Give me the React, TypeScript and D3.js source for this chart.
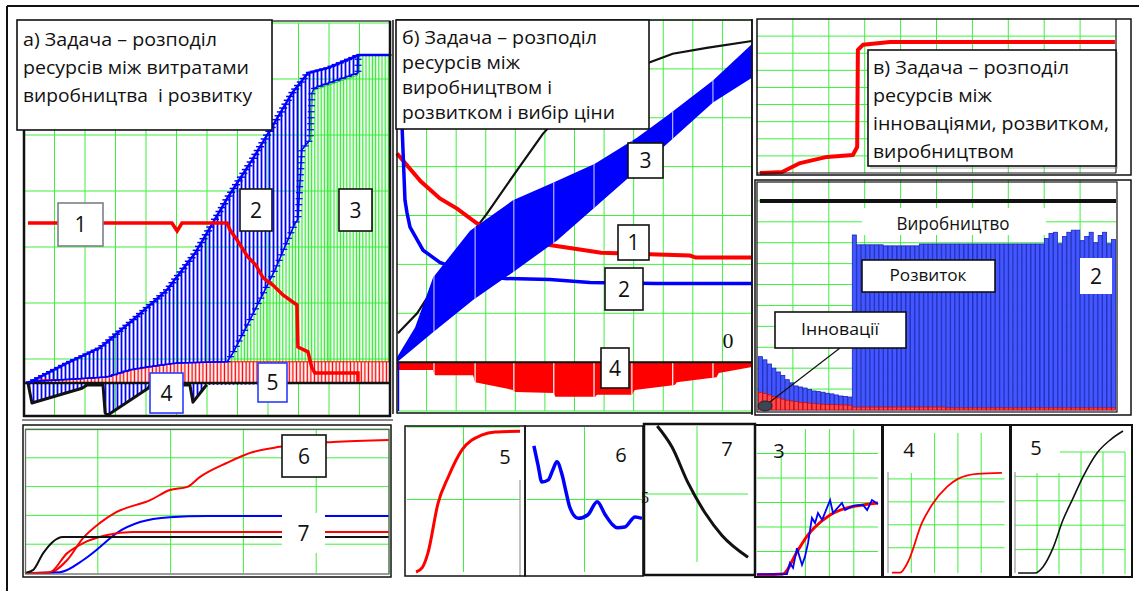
import React, { useEffect, useRef } from "react";
import * as d3 from "d3";

type Pt = [number, number];

const GRID = "#3ef03e";
const RED = "#ff0000";
const BLUE = "#0000ff";
const SANS = "'Open Sans', 'Noto Sans', sans-serif";
const SERIF = "'Liberation Serif', 'DejaVu Serif', serif";

// ---------- а) production costs vs development ----------
const aUpper2: Pt[] = [[1.3, 0], [14.1, 0.5], [24.9, 0.88], [35.7, 1.58], [46.9, 2.33], [56.1, 3.25], [66.9, 4.65], [74.8, 5.58], [81.3, 6.4], [87.9, 7.25], [93.1, 7.75], [99.7, 7.88], [107.5, 8.13], [109.5, 8.2], [120, 8.2]];
const aLower2: Pt[] = [[1.3, 0.03], [27.2, 0.15], [34.8, 0.33], [40.3, 0.4], [50.2, 0.5], [66.6, 0.53], [68.5, 0.75], [74.1, 1.58], [82.3, 2.83], [88.9, 4.0], [89.8, 4.08], [91.1, 5.83], [93.8, 6.08], [94.4, 7.25], [95.4, 7.38], [109.5, 7.75], [109.6, 8.2], [120, 8.2]];
const aTop5: Pt[] = [[1.3, 0], [5.2, 0.08], [15, 0.08], [27.2, 0.15], [35.7, 0.33], [50.2, 0.5], [60, 0.53], [120, 0.53]];
const aCurve1: Pt[] = [[1.3, 4], [48.5, 4], [50.2, 3.8], [51.8, 4], [66.6, 4], [67.5, 3.83], [69.8, 3.58], [73.4, 3.15], [76, 2.95], [78.4, 2.63], [81.6, 2.45], [84.9, 2.2], [89.5, 1.95], [89.8, 0.9], [93.1, 0.78], [94.4, 0.38], [95.4, 0.25], [109.5, 0.25], [109.5, 0.03]];
const aCurve4: Pt[] = [[1.3, 0], [2.6, -0.5], [19, -0.13], [20.7, -0.05], [25.9, -0.05], [26.6, -0.75], [27.5, -0.8], [40.7, -0.13], [41.3, -0.05], [54.4, -0.05], [55.4, -0.48], [59.3, -0.1], [60, -0.05]];

// ---------- б) production vs development, price choice ----------
const bBlack: Pt[] = [[0.03, 0.59], [0.68, 1.0], [1.79, 2.04], [3.04, 3.04], [4.05, 3.92], [4.93, 4.67], [5.84, 5.27], [6.86, 5.71], [8.48, 6.12], [9.32, 6.31], [10.47, 6.43], [12, 6.57]];
const bCurve2: Pt[] = [[0.12, 5.0], [0.17, 4.84], [0.27, 3.31], [0.34, 3.05], [0.44, 2.76], [0.88, 2.29], [1.45, 2.04], [2.57, 1.78], [3.65, 1.71], [5.17, 1.69], [6.52, 1.63], [8.78, 1.61], [12, 1.61]];
const bCurve1: Pt[] = [[0, 4.27], [0.8, 3.7], [1.45, 3.35], [2.03, 3.14], [2.7, 2.84], [3.5, 2.6], [4.3, 2.45], [5.1, 2.4], [5.9, 2.33], [6.9, 2.24], [9.9, 2.18], [10.1, 2.14], [12, 2.14]];
const bBandLow: Pt[] = [[0, 0], [1.22, 0.61], [2.57, 1.27], [3.92, 1.84], [5.41, 2.49], [6.96, 3.31], [8.99, 4.39], [10.68, 5.31], [12, 5.82]];
const bBandHigh: Pt[] = [[0, 0.1], [0.61, 0.71], [1.22, 1.73], [2.47, 2.69], [3.92, 3.31], [5.27, 3.67], [6.69, 4.06], [8.11, 4.59], [9.22, 5.08], [10.68, 5.76], [12, 6.51]];
const bNeg4: Pt[] = [[0, -0.16], [1.22, -0.16], [1.28, -0.27], [2.57, -0.27], [2.64, -0.41], [3.92, -0.57], [4.0, -0.61], [5.3, -0.63], [5.35, -0.71], [6.7, -0.71], [6.76, -0.67], [7.94, -0.67], [8.04, -0.57], [9.39, -0.47], [9.46, -0.41], [10.8, -0.31], [10.88, -0.22], [12, -0.1]];
const bGaps = [1.25, 2.64, 3.95, 5.3, 6.66, 7.94, 9.32, 10.68];

// ---------- в) innovation, development, production ----------
const vShare: Pt[] = [[0.08, 0], [0.7, 0.06], [1.2, 0.58], [1.95, 0.94], [2.67, 1.05], [2.79, 1.52], [2.81, 7.19], [2.95, 7.49], [3.7, 7.66], [9.97, 7.66]];
const vDevelopment = [
  2.55, 2.4, 2.2, 2.0, 1.82, 1.65, 1.45, 1.3, 1.15, 1.1, 1.05, 0.98, 0.91, 0.88, 0.85, 0.8, 0.77, 0.72, 0.67, 0.65, 0.62,
  8.37, 7.9, 7.9, 7.9, 7.9, 7.9, 7.9, 7.85, 7.85, 7.85, 7.85, 7.85, 7.85, 7.85, 7.85,
  7.94, 7.94, 7.94, 7.94, 7.94, 7.94, 7.94, 7.94, 7.94, 7.94, 7.94, 7.94, 7.94, 7.94, 7.94, 7.94, 7.94, 7.94, 7.94, 7.94,
  7.94, 7.94, 7.94, 7.94, 7.94, 7.94, 7.94, 7.94,
  8.2, 8.45, 8.5, 7.95, 8.3, 8.5, 8.6, 8.6, 8.1, 8.3, 8.5, 8.0, 8.35, 8.5, 7.95, 8.15,
];
const vInnovation = [
  0.85, 0.8, 0.72, 0.65, 0.58, 0.52, 0.47, 0.43, 0.4, 0.37, 0.35, 0.33, 0.31, 0.29, 0.28, 0.27, 0.26, 0.25, 0.24, 0.24, 0.23,
  0.14, 0.14, 0.14, 0.14, 0.14, 0.14, 0.14, 0.14, 0.14, 0.14, 0.14, 0.14, 0.14, 0.14, 0.14, 0.14, 0.14, 0.14, 0.14, 0.14, 0.14,
  0.1, 0.1, 0.1, 0.1, 0.1, 0.1, 0.1, 0.1, 0.1, 0.1, 0.1, 0.1, 0.1, 0.1, 0.1, 0.1, 0.1, 0.1, 0.1,
  0.1, 0.1, 0.1, 0.1, 0.1, 0.1, 0.1, 0.1, 0.1, 0.1, 0.1, 0.1, 0.1, 0.1, 0.1, 0.1, 0.1, 0.1, 0.1,
];
const vProductionLevel = 10;

// ---------- small panels ----------
const s6Red: Pt[] = [[0, 0], [0.32, 0], [0.58, 0.45], [0.8, 1.22], [1.03, 1.74], [1.26, 2.12], [1.72, 2.53], [1.99, 2.88], [2.23, 2.99], [2.4, 3.33], [2.77, 3.82], [3.13, 4.2], [3.5, 4.38], [4.23, 4.55], [5, 4.62]];
const s7Blue: Pt[] = [[0, 0], [0.48, 0.03], [0.8, 0.45], [1.03, 0.9], [1.26, 1.39], [1.58, 1.77], [1.99, 1.94], [2.5, 1.98], [5, 1.98]];
const s7Red: Pt[] = [[0, 0], [0.34, 0.03], [0.58, 0.69], [0.8, 1.04], [1.13, 1.32], [1.48, 1.42], [5, 1.42]];
const s7Black: Pt[] = [[0, 0], [0.11, 0.1], [0.25, 0.69], [0.38, 1.08], [0.52, 1.25], [5, 1.25]];

const b5Red: Pt[] = [[0.16, 0], [0.27, 0.06], [0.37, 0.26], [0.55, 0.95], [0.73, 1.31], [0.97, 1.68], [1.33, 1.89], [1.56, 1.93], [2, 1.94]];
const b6Blue: Pt[] = [[0.12, 1.74], [0.19, 1.48], [0.26, 1.24], [0.37, 1.27], [0.45, 1.41], [0.52, 1.52], [0.61, 1.34], [0.68, 1.1], [0.75, 0.88], [0.89, 0.74], [1.06, 0.79], [1.22, 0.97], [1.36, 0.79], [1.48, 0.66], [1.57, 0.61], [1.7, 0.62], [1.88, 0.76], [2, 0.74]];
const b7Black: Pt[] = [[0.22, 2.0], [0.51, 1.69], [0.82, 1.17], [1.16, 0.72], [1.49, 0.39], [2, 0.07]];

const v3Red: Pt[] = [[0, 0.04], [1.07, 0.08], [1.65, 0.98], [2.1, 1.67], [2.4, 2.0], [3.02, 2.49], [3.72, 2.78], [4.38, 2.9], [5, 2.98]];
const v3Blue: Pt[] = [[0, 0.08], [1.24, 0.08], [1.36, 0.53], [1.49, 0.33], [1.65, 1.14], [1.86, 0.45], [1.98, 0.78], [2.11, 1.35], [2.27, 2.37], [2.4, 2.16], [2.52, 2.57], [2.69, 2.29], [3.02, 3.1], [3.14, 2.57], [3.51, 2.98], [3.64, 2.69], [3.97, 2.86], [4.38, 2.9], [4.55, 2.69], [4.75, 3.1], [5, 2.94]];
const v4Red: Pt[] = [[0.17, -0.08], [0.52, -0.08], [0.86, 0.39], [1.46, 2.09], [1.89, 2.87], [2.53, 3.65], [3.0, 4.0], [3.82, 4.22], [4.89, 4.26]];
const v5Black: Pt[] = [[0.14, 0.04], [0.91, 0.04], [1.27, 0.29], [1.73, 1.07], [2.18, 2.21], [2.64, 3.11], [3.09, 3.98], [3.73, 4.96], [4.32, 5.49], [4.91, 5.86]];

const titleA = ["а) Задача – розподіл", "ресурсів між витратами", "виробництва  і розвитку"];
const titleB = ["б) Задача – розподіл", "ресурсів між", "виробництвом і", "розвитком і вибір ціни"];
const titleV = ["в) Задача – розподіл", "ресурсів між", "інноваціями, розвитком,", "виробництвом"];

type Sc = d3.ScaleLinear<number, number>;
const lin = (dom: [number, number], rng: [number, number]) => d3.scaleLinear().domain(dom).range(rng);

function linePath(pts: Pt[], x: Sc, y: Sc, curve: d3.CurveFactory = d3.curveLinear) {
  return d3.line<Pt>().x((d) => x(d[0])).y((d) => y(d[1])).curve(curve)(pts) || "";
}
function bandPath(top: Pt[], bottom: Pt[], x: Sc, y: Sc) {
  return linePath([...top, ...bottom.slice().reverse()], x, y) + "Z";
}

function Grid({ x, y, xs, ys }: { x: Sc; y: Sc; xs: number[]; ys: number[] }) {
  const [x0, x1] = x.range();
  const [y0, y1] = y.range();
  return (
    <g stroke={GRID} strokeWidth={1}>
      {xs.map((v, i) => <line key={"v" + i} x1={x(v)} x2={x(v)} y1={y0} y2={y1} />)}
      {ys.map((v, i) => <line key={"h" + i} x1={x0} x2={x1} y1={y(v)} y2={y(v)} />)}
    </g>
  );
}

function Caps({ d, color, step, half, width }: { d: string; color: string; step: number; half: number; width: number }) {
  const ref = useRef<SVGGElement>(null);
  useEffect(() => {
    const g = d3.select(ref.current);
    const p = g.select<SVGPathElement>("path.guide").node();
    if (!p) return;
    const L = p.getTotalLength();
    const pts = d3.range(step / 2, L, step).map((l) => p.getPointAtLength(l));
    g.selectAll("line.cap")
      .data(pts)
      .join("line")
      .attr("class", "cap")
      .attr("x1", (q) => q.x - half)
      .attr("x2", (q) => q.x + half)
      .attr("y1", (q) => q.y)
      .attr("y2", (q) => q.y)
      .attr("stroke", color)
      .attr("stroke-width", width);
  }, [d, color, step, half, width]);
  return (
    <g ref={ref}>
      <path className="guide" d={d} fill="none" stroke="none" />
    </g>
  );
}

function TextBox({ x, y, w, h, lines, tx, base, gap, widths, size = 19 }: {
  x: number; y: number; w: number; h: number; lines: string[]; tx: number; base: number; gap: number; widths: number[]; size?: number;
}) {
  return (
    <g>
      <rect x={x} y={y} width={w} height={h} fill="#fff" stroke="#111" strokeWidth={1.6} />
      {lines.map((t, i) => (
        <text key={i} x={tx} y={base + i * gap} fontFamily={SANS} fontSize={size} fill="#111"
          textLength={widths[i]} lengthAdjust="spacingAndGlyphs" style={{ whiteSpace: "pre" }}>
          {t}
        </text>
      ))}
    </g>
  );
}

function Label({ x, y, w, h, text, stroke = "#111", size = 21, fill = "#fff", noBorder = false }: {
  x: number; y: number; w: number; h: number; text: string; stroke?: string; size?: number; fill?: string; noBorder?: boolean;
}) {
  return (
    <g>
      <rect x={x} y={y} width={w} height={h} fill={fill} stroke={noBorder ? "none" : stroke} strokeWidth={1.6} />
      <text x={x + w / 2} y={y + h / 2} dy="0.36em" textAnchor="middle" fontFamily={SANS} fontSize={size} fill="#111">{text}</text>
    </g>
  );
}

function Num({ x, y, text, size = 20, font = SANS }: { x: number; y: number; text: string; size?: number; font?: string }) {
  return <text x={x} y={y} textAnchor="middle" fontFamily={font} fontSize={size} fill="#111">{text}</text>;
}

export default function App() {
  // panel а
  const aX = lin([0, 120], [24, 390]);
  const aY = lin([-0.8, 9], [415, 23]);
  const aGridX = d3.range(10, 120, 10);
  const aGridY = d3.range(1, 8).map((k) => -0.8 + 1.4 * k);
  const zeroA: Pt[] = [[1.3, 0], [120, 0]];
  const upperD = linePath(aUpper2, aX, aY);
  const lowerD = linePath(aLower2, aX, aY);

  // panel б
  const bX = lin([0, 12], [397, 752]);
  const bY = lin([-1, 7], [411, 20]);
  const zeroB: Pt[] = [[0, 0], [12, 0]];

  // panel в
  const vX = lin([0, 10], [757, 1116]);
  const vtY = lin([0, 9], [173, 19]);
  const vbY = lin([0, 11], [410, 180]);
  const bars = d3.scaleBand<number>().domain(d3.range(vDevelopment.length)).range([758, 1116]).padding(0.1);

  // small panels
  const sX = lin([0, 5], [25, 389]);
  const sY = lin([0, 5], [573, 429]);
  const p5X = lin([0, 2], [407, 520]);
  const p6X = lin([0, 2], [527, 642]);
  const pY = lin([0, 2], [572, 427]);
  const p7X = lin([0, 2], [646, 748]);
  const p7Y = lin([0, 2], [562, 426]);
  const q3X = lin([0, 5], [757, 878]);
  const q3Y = lin([0, 6], [576, 429]);
  const q4X = lin([0, 5], [888, 1004.5]);
  const q4Y = lin([-0.1, 6], [573, 433]);
  const q5X = lin([0, 5], [1015, 1125]);
  const q5Y = lin([0, 5], [574, 452]);

  return (
    <svg width={1139} height={591} style={{ position: "absolute", left: 0, top: 0, background: "#fff" }}>
      <defs>
        <pattern id="hatchBlue" width={4} height={8} patternUnits="userSpaceOnUse">
          <line x1={1.5} x2={1.5} y1={0} y2={8} stroke={BLUE} strokeWidth={1.8} />
        </pattern>
        <pattern id="hatchGreen" width={3.2} height={8} patternUnits="userSpaceOnUse">
          <line x1={1.2} x2={1.2} y1={0} y2={8} stroke="#2ee82e" strokeWidth={1.3} />
        </pattern>
        <pattern id="hatchRed" width={3.6} height={8} patternUnits="userSpaceOnUse">
          <rect width={3.6} height={8} fill="#fff" />
          <line x1={1.3} x2={1.3} y1={0} y2={8} stroke={RED} strokeWidth={1.4} />
        </pattern>
        <clipPath id="bandClip"><path d={bandPath(bBandHigh, bBandLow, bX, bY)} /></clipPath>
        <clipPath id="negClip"><path d={bandPath(zeroB, bNeg4, bX, bY)} /></clipPath>
      </defs>

      {/* outer rules */}
      <line x1={7} x2={1139} y1={6} y2={6} stroke="#111" strokeWidth={2} />
      <line x1={7} x2={7} y1={6} y2={591} stroke="#111" strokeWidth={2} />

      {/* ===== panel а ===== */}
      <Grid x={aX} y={aY} xs={aGridX} ys={aGridY} />
      <path d={bandPath(aLower2, zeroA, aX, aY)} fill="url(#hatchGreen)" />
      <path d={bandPath(aTop5, zeroA, aX, aY)} fill="url(#hatchRed)" />
      <path d={bandPath(aUpper2, aLower2, aX, aY)} fill="url(#hatchBlue)" />
      <path d={bandPath(zeroA, aCurve4, aX, aY)} fill="url(#hatchBlue)" />
      <line x1={aX(0)} x2={aX(120)} y1={aY(0)} y2={aY(0)} stroke="#111" strokeWidth={2.5} />
      <path d={linePath(aTop5, aX, aY)} fill="none" stroke={RED} strokeWidth={1} />
      <path d={lowerD} fill="none" stroke={BLUE} strokeWidth={1.6} />
      <path d={linePath(aLower2.slice(12, 16), aX, aY)} fill="none" stroke="#22dd22" strokeWidth={1.2} transform="translate(0,2)" />
      <path d={upperD} fill="none" stroke={BLUE} strokeWidth={2.4} />
      <Caps d={upperD} color={BLUE} step={4.5} half={4} width={1.5} />
      <Caps d={lowerD} color={BLUE} step={6} half={3.5} width={1.2} />
      <path d={linePath(aCurve1, aX, aY)} fill="none" stroke={RED} strokeWidth={3.5} />
      <path d={linePath(aCurve4, aX, aY)} fill="none" stroke="#111" strokeWidth={3} strokeLinejoin="round" />
      <rect x={24} y={21} width={366} height={395} fill="none" stroke="#111" strokeWidth={1.2} />
      <line x1={24} x2={24} y1={21} y2={417} stroke="#111" strokeWidth={2.5} />
      <line x1={390} x2={390} y1={21} y2={417} stroke="#111" strokeWidth={2.5} />
      <line x1={23} x2={391} y1={416} y2={416} stroke="#111" strokeWidth={2.5} />
      <line x1={22} x2={393} y1={420} y2={420} stroke="#111" strokeWidth={1} />
      <TextBox x={17} y={20} w={255} h={110} lines={titleA} tx={23} base={45.5} gap={28} widths={[194, 226, 229]} />
      <Label x={58} y={203} w={45} h={43} text="1" stroke="#7a808a" />
      <Label x={240} y={189} w={32} h={42} text="2" />
      <Label x={339} y={189} w={33} h={42} text="3" />
      <Label x={150} y={373} w={33} h={40} text="4" stroke="#2a3cff" />
      <Label x={258} y={363} w={29} h={39} text="5" stroke="#2a3cff" />

      {/* ===== panel б ===== */}
      <Grid x={bX} y={bY} xs={d3.range(1, 12)} ys={d3.range(-1, 8)} />
      <path d={linePath(bBlack, bX, bY)} fill="none" stroke="#111" strokeWidth={2.2} />
      <path d={linePath(bCurve1, bX, bY)} fill="none" stroke={RED} strokeWidth={4} />
      <path d={linePath(bCurve2, bX, bY)} fill="none" stroke={BLUE} strokeWidth={3.5} />
      <path d={bandPath(bBandHigh, bBandLow, bX, bY)} fill={BLUE} />
      <g clipPath="url(#bandClip)" stroke="#fff" strokeWidth={1} opacity={0.85}>
        {bGaps.map((g, i) => <line key={i} x1={bX(g)} x2={bX(g)} y1={bY(7)} y2={bY(0)} />)}
      </g>
      <path d={bandPath(zeroB, bNeg4, bX, bY)} fill={RED} />
      <g clipPath="url(#negClip)" stroke="#fff" strokeWidth={1.2}>
        {bGaps.map((g, i) => <line key={i} x1={bX(g)} x2={bX(g)} y1={bY(0)} y2={bY(-1)} />)}
      </g>
      <line x1={bX(0)} x2={bX(12)} y1={bY(0)} y2={bY(0)} stroke="#111" strokeWidth={2} />
      <line x1={bX(0.05)} x2={bX(0.05)} y1={bY(0)} y2={bY(-1)} stroke={BLUE} strokeWidth={1.5} />
      <line x1={393} x2={393} y1={20} y2={414} stroke="#111" strokeWidth={1.5} />
      <rect x={397} y={20} width={355} height={393} fill="none" stroke="#111" strokeWidth={1.5} />
      <TextBox x={396} y={20} w={253} h={109} lines={titleB} tx={402} base={43.5} gap={25} widths={[195, 118, 150, 213]} />
      <Label x={628} y={143} w={35} h={35} text="3" />
      <Label x={618} y={225} w={31} h={35} text="1" />
      <Label x={605} y={268} w={38} h={42} text="2" />
      <Label x={601} y={348} w={28} h={40} text="4" />
      <Num x={728} y={348} text="0" size={22} font={SERIF} />

      {/* ===== panel в, upper ===== */}
      <Grid x={vX} y={vtY} xs={d3.range(1, 10)} ys={d3.range(1, 9)} />
      <path d={linePath(vShare, vX, vtY)} fill="none" stroke={RED} strokeWidth={4} strokeLinejoin="round" />
      <rect x={757} y={19} width={374} height={156} fill="none" stroke="#111" strokeWidth={1.5} />
      <line x1={1116} x2={1116} y1={19} y2={173} stroke="#111" strokeWidth={1.2} />
      <line x1={757} x2={1116} y1={173} y2={173} stroke="#111" strokeWidth={1} />
      <line x1={752} x2={752} y1={19} y2={415} stroke="#111" strokeWidth={1.5} />
      <rect x={870} y={52} width={248} height={117} fill="#888" opacity={0.35} />
      <TextBox x={868} y={50} w={248} h={116} lines={titleV} tx={873} base={74} gap={28} widths={[196, 119, 236, 141]} />

      {/* ===== panel в, lower ===== */}
      <Grid x={vX} y={vbY} xs={d3.range(1, 10)} ys={d3.range(1, 11)} />
      <rect x={862} y={208} width={184} height={27} fill="#fff" />
      <line x1={vX(0.08)} x2={vX(10)} y1={vbY(vProductionLevel)} y2={vbY(vProductionLevel)} stroke="#111" strokeWidth={4} />
      <g fill="#4356ff" stroke="#1626b8" strokeWidth={0.8}>
        {vDevelopment.map((v, i) => (
          <rect key={i} x={bars(i)!} width={bars.bandwidth()} y={vbY(v)} height={vbY(0) - vbY(v)} />
        ))}
      </g>
      <g fill="#ff4a4a" stroke="#d00000" strokeWidth={0.7}>
        {vInnovation.map((v, i) => (
          <rect key={i} x={bars(i)!} width={bars.bandwidth()} y={vbY(v)} height={vbY(0) - vbY(v)} />
        ))}
      </g>
      <text x={953} y={230} textAnchor="middle" fontFamily={SANS} fontSize={18} fill="#111" textLength={113} lengthAdjust="spacingAndGlyphs">Виробництво</text>
      <rect x={755} y={180} width={376} height={235} fill="none" stroke="#111" strokeWidth={1.5} />
      <rect x={757} y={182} width={360} height={230} fill="none" stroke="#111" strokeWidth={1.2} />
      <g>
        <rect x={862} y={260} width={133} height={32} fill="#fff" stroke="#111" strokeWidth={1.6} />
        <text x={928} y={281} textAnchor="middle" fontFamily={SANS} fontSize={17} fill="#111" textLength={77} lengthAdjust="spacingAndGlyphs">Розвиток</text>
      </g>
      <Label x={1080} y={258} w={32} h={36} text="2" noBorder />
      <line x1={840} y1={348} x2={766} y2={405} stroke="#111" strokeWidth={1.2} />
      <g>
        <rect x={775} y={312} width={131} height={36} fill="#fff" stroke="#111" strokeWidth={1.6} />
        <text x={840} y={335} textAnchor="middle" fontFamily={SANS} fontSize={17} fill="#111" textLength={78} lengthAdjust="spacingAndGlyphs">Інновації</text>
      </g>
      <ellipse cx={765} cy={406} rx={7} ry={5} fill="#3c4654" stroke="#1a2230" strokeWidth={1} />

      {/* ===== lower row: curves 6 and 7 ===== */}
      <Grid x={sX} y={sY} xs={d3.range(1, 6)} ys={d3.range(1, 6)} />
      <path d={linePath(s6Red, sX, sY, d3.curveMonotoneX)} fill="none" stroke={RED} strokeWidth={2} />
      <path d={linePath(s7Blue, sX, sY, d3.curveMonotoneX)} fill="none" stroke={BLUE} strokeWidth={2} />
      <path d={linePath(s7Red, sX, sY, d3.curveMonotoneX)} fill="none" stroke={RED} strokeWidth={2} />
      <path d={linePath(s7Black, sX, sY, d3.curveMonotoneX)} fill="none" stroke="#111" strokeWidth={2} />
      <rect x={23} y={425} width={368} height={152} fill="none" stroke="#111" strokeWidth={1.5} />
      <rect x={25.5} y={429.5} width={363.5} height={144.5} fill="none" stroke="#666" strokeWidth={1.3} />
      <Label x={282} y={435} w={44} h={42} text="6" />
      <Label x={282} y={513} w={43} h={40} text="7" noBorder />

      {/* curves 5, 6, 7 of panel б */}
      <Grid x={p5X} y={pY} xs={[1]} ys={[1, 2]} />
      <path d={linePath(b5Red, p5X, pY, d3.curveMonotoneX)} fill="none" stroke={RED} strokeWidth={3} />
      <line x1={520} x2={520} y1={480} y2={576} stroke="#999" strokeWidth={1.2} />
      <rect x={405} y={426} width={120} height={150} fill="none" stroke="#111" strokeWidth={1.5} />
      <Num x={505} y={464} text="5" size={20} />

      <Grid x={p6X} y={pY} xs={[1]} ys={[1]} />
      <path d={linePath(b6Blue, p6X, pY, d3.curveMonotoneX)} fill="none" stroke={BLUE} strokeWidth={3.5} />
      <rect x={525} y={426} width={118} height={150} fill="none" stroke="#111" strokeWidth={1.5} />
      <Num x={621} y={462} text="6" size={20} />

      <Grid x={p7X} y={p7Y} xs={[1]} ys={[1]} />
      <path d={linePath(b7Black, p7X, p7Y, d3.curveMonotoneX)} fill="none" stroke="#111" strokeWidth={3} />
      <text x={641} y={503} fontFamily={SERIF} fontSize={16} fill="#111">5</text>
      <rect x={644} y={424} width={111} height={151} fill="none" stroke="#111" strokeWidth={2.5} />
      <Num x={727} y={456} text="7" size={20} />

      {/* curves 3, 4, 5 of panel в */}
      <Grid x={q3X} y={q3Y} xs={d3.range(1, 5)} ys={d3.range(1, 6)} />
      <rect x={758} y={430} width={46} height={22} fill="#fff" />
      <path d={linePath(v3Red, q3X, q3Y, d3.curveMonotoneX)} fill="none" stroke={RED} strokeWidth={3} />
      <path d={linePath(v3Blue, q3X, q3Y)} fill="none" stroke={BLUE} strokeWidth={1.8} />
      <rect x={755} y={425} width={127} height={152} fill="none" stroke="#111" strokeWidth={2} />
      <Num x={779} y={458} text="3" size={20} />

      <Grid x={q4X} y={q4Y} xs={d3.range(1, 5)} ys={d3.range(1, 5)} />
      <rect x={886} y={430} width={46} height={43} fill="#fff" />
      <line x1={888} x2={888} y1={472} y2={573} stroke="#999" strokeWidth={1.2} />
      <path d={linePath(v4Red, q4X, q4Y, d3.curveMonotoneX)} fill="none" stroke={RED} strokeWidth={1.8} />
      <rect x={883} y={425} width={127} height={152} fill="none" stroke="#111" strokeWidth={2} />
      <Num x={909} y={457} text="4" size={20} />

      <Grid x={q5X} y={q5Y} xs={d3.range(1, 6)} ys={d3.range(1, 6)} />
      <rect x={1013} y={430} width={47} height={43} fill="#fff" />
      <line x1={1015} x2={1015} y1={472} y2={573} stroke="#999" strokeWidth={1.2} />
      <path d={linePath(v5Black, q5X, q5Y, d3.curveMonotoneX)} fill="none" stroke="#111" strokeWidth={1.6} />
      <rect x={1011} y={425} width={121} height={152} fill="none" stroke="#111" strokeWidth={2} />
      <Num x={1036} y={455} text="5" size={20} />
    </svg>
  );
}
